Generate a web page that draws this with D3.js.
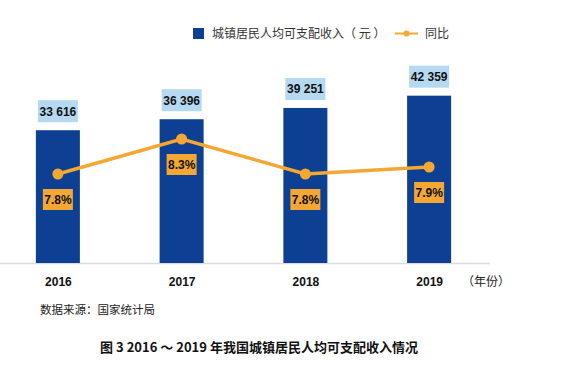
<!DOCTYPE html>
<html>
<head>
<meta charset="utf-8">
<script src="https://cdn.jsdelivr.net/npm/d3@7"></script>
<style>
  body { margin: 0; background: #fff; }
  svg { display: block; font-family: "Liberation Sans", Arial, sans-serif; }
  .cjk { font-family: "Noto Sans CJK SC", sans-serif; }
</style>
</head>
<body>
<svg id="chart" width="570" height="373"></svg>
<script>
const years = ['2016', '2017', '2018', '2019']
const income = [33616, 36396, 39251, 42359]
const growth = [7.8, 8.3, 7.8, 7.9]

const barColor = '#0d3f93'
const lineColor = '#f4a733'
const labelBlue = '#b5d9f1'

const svg = d3.select('#chart')
const baseY = 263

const x = d3.scalePoint().domain(years).range([-4, 491]).padding(0.5)
const y = d3.scaleLinear().domain([0, 50000]).range([baseY, 65.5])
const yr = d3.scaleLinear().domain([7, 9]).range([230, 90])
const barW = 44

const fmt = d3.formatLocale({ decimal: '.', thousands: ' ', grouping: [3], currency: ['', ''] }).format(',')

// baseline
svg.append('line')
  .attr('x1', 0).attr('x2', 490)
  .attr('y1', baseY + 0.5).attr('y2', baseY + 0.5)
  .attr('stroke', '#dcdcdc').attr('stroke-width', 1.5)

// bars
svg.selectAll('rect.bar')
  .data(income)
  .enter()
  .append('rect')
  .attr('class', 'bar')
  .attr('x', (d, i) => x(years[i]) - barW / 2)
  .attr('y', d => y(d))
  .attr('width', barW)
  .attr('height', d => baseY - y(d))
  .attr('fill', barColor)

// value labels
const vl = svg.selectAll('g.vlabel')
  .data(income)
  .enter()
  .append('g')
  .attr('transform', (d, i) => 'translate(' + x(years[i]) + ',' + (y(d) - 8) + ')')
vl.append('rect')
  .attr('x', -20).attr('y', -22).attr('width', 40).attr('height', 22)
  .attr('fill', labelBlue)
vl.append('text')
  .attr('y', -11).attr('dy', '0.36em')
  .attr('text-anchor', 'middle')
  .attr('font-size', 12).attr('font-weight', 'bold').attr('fill', '#111')
  .text(d => fmt(d))

// growth line
const line = d3.line()
  .x((d, i) => x(years[i]))
  .y(d => yr(d))
svg.append('path')
  .datum(growth)
  .attr('d', line)
  .attr('fill', 'none')
  .attr('stroke', lineColor)
  .attr('stroke-width', 3.5)
svg.selectAll('circle.pt')
  .data(growth)
  .enter()
  .append('circle')
  .attr('cx', (d, i) => x(years[i]))
  .attr('cy', d => yr(d))
  .attr('r', 5.5)
  .attr('fill', lineColor)

// growth labels
const gl = svg.selectAll('g.glabel')
  .data(growth)
  .enter()
  .append('g')
  .attr('transform', (d, i) => 'translate(' + x(years[i]) + ',' + (yr(d) + 15) + ')')
gl.append('rect')
  .attr('x', -15).attr('y', 0).attr('width', 30).attr('height', 21)
  .attr('fill', lineColor)
gl.append('text')
  .attr('y', 10.5).attr('dy', '0.36em')
  .attr('text-anchor', 'middle')
  .attr('font-size', 12).attr('font-weight', 'bold').attr('fill', '#111')
  .text(d => d.toFixed(1) + '%')

// x axis
const xAxis = svg.append('g')
  .attr('transform', 'translate(0,' + baseY + ')')
  .call(d3.axisBottom(x).tickSize(0).tickPadding(14))
xAxis.select('.domain').remove()
xAxis.selectAll('text')
  .attr('font-size', 12).attr('font-weight', 'bold').attr('fill', '#111')
  .attr('font-family', '"Liberation Sans", Arial, sans-serif')

svg.append('text')
  .attr('class', 'cjk')
  .attr('x', 462).attr('y', 282).attr('dy', '0.36em')
  .attr('font-size', 12).attr('fill', '#222')
  .text('（年份）')

// legend
svg.append('rect')
  .attr('x', 193).attr('y', 28).attr('width', 11).attr('height', 11)
  .attr('fill', barColor)
svg.append('text')
  .attr('class', 'cjk')
  .attr('x', 212).attr('y', 33.5).attr('dy', '0.36em')
  .attr('font-size', 12).attr('fill', '#333')
  .text('城镇居民人均可支配收入（ 元 ）')
svg.append('line')
  .attr('x1', 395).attr('x2', 418).attr('y1', 33.5).attr('y2', 33.5)
  .attr('stroke', lineColor).attr('stroke-width', 2)
svg.append('circle')
  .attr('cx', 406.5).attr('cy', 33.5).attr('r', 3)
  .attr('fill', lineColor)
svg.append('text')
  .attr('class', 'cjk')
  .attr('x', 425).attr('y', 33.5).attr('dy', '0.36em')
  .attr('font-size', 12).attr('fill', '#333')
  .text('同比')

// source
svg.append('text')
  .attr('class', 'cjk')
  .attr('x', 40).attr('y', 310).attr('dy', '0.36em')
  .attr('font-size', 11.5).attr('fill', '#222')
  .text('数据来源：国家统计局')

// caption
svg.append('text')
  .attr('class', 'cjk')
  .attr('x', 259).attr('y', 347).attr('dy', '0.36em')
  .attr('text-anchor', 'middle')
  .attr('font-size', 13).attr('font-weight', 'bold').attr('fill', '#111')
  .text('图 3  2016 ～ 2019 年我国城镇居民人均可支配收入情况')
</script>
</body>
</html>
